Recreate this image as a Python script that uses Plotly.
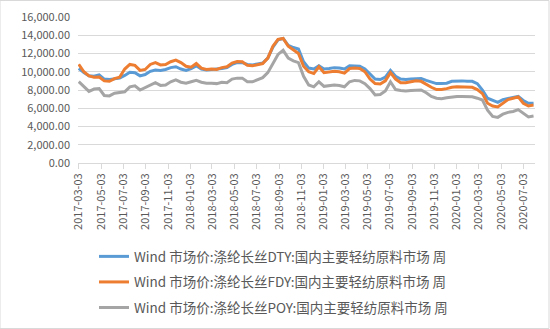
import plotly.graph_objects as go

dates = [
    "2017-03-03", "2017-03-17", "2017-03-31", "2017-04-14", "2017-04-28", "2017-05-12", "2017-05-26",
    "2017-06-09", "2017-06-23", "2017-07-07", "2017-07-21", "2017-08-04", "2017-08-18", "2017-09-01",
    "2017-09-15", "2017-09-29", "2017-10-13", "2017-10-27", "2017-11-10", "2017-11-24", "2017-12-08",
    "2017-12-22", "2018-01-05", "2018-01-19", "2018-02-02", "2018-02-16", "2018-03-02", "2018-03-16",
    "2018-03-30", "2018-04-13", "2018-04-27", "2018-05-11", "2018-05-25", "2018-06-08", "2018-06-22",
    "2018-07-06", "2018-07-20", "2018-08-03", "2018-08-17", "2018-08-31", "2018-09-14", "2018-09-28",
    "2018-10-12", "2018-10-26", "2018-11-09", "2018-11-23", "2018-12-07", "2018-12-21", "2019-01-04",
    "2019-01-18", "2019-02-01", "2019-02-15", "2019-03-01", "2019-03-15", "2019-03-29", "2019-04-12",
    "2019-04-26", "2019-05-10", "2019-05-24", "2019-06-07", "2019-06-21", "2019-07-05", "2019-07-19",
    "2019-08-02", "2019-08-16", "2019-08-30", "2019-09-13", "2019-09-27", "2019-10-11", "2019-10-25",
    "2019-11-08", "2019-11-22", "2019-12-06", "2019-12-20", "2020-01-03", "2020-01-17", "2020-01-31",
    "2020-02-14", "2020-02-28", "2020-03-13", "2020-03-27", "2020-04-10", "2020-04-24", "2020-05-08",
    "2020-05-22", "2020-06-05", "2020-06-19", "2020-07-03", "2020-07-17", "2020-07-31",
]

dty = [
    10380, 9900, 9550, 9500, 9650, 9200, 9150, 9250, 9300, 9600, 9950, 9900, 9550, 9700,
    10050, 10200, 10150, 10250, 10450, 10550, 10300, 10150, 10350, 10650, 10300, 10200, 10250, 10250,
    10350, 10450, 10800, 11000, 11000, 10800, 10750, 10850, 10950, 11500, 12700, 13500, 13650, 12900,
    12650, 12500, 11100, 10400, 10300, 10650, 10300, 10350, 10450, 10400, 10300, 10650, 10650, 10600,
    10300, 9700, 9200, 9150, 9400, 10150, 9500, 9200, 9150, 9200, 9250, 9250, 9050, 8850,
    8700, 8700, 8750, 8950, 9000, 9000, 8950, 8950, 8700, 8000, 7100, 6850, 6650, 6950,
    7050, 7150, 7300, 6850, 6550, 6550,
]

fdy = [
    10820, 10000, 9550, 9400, 9420, 9000, 8950, 9250, 9400, 10300, 10800, 10700, 10150, 10250,
    10800, 11000, 10750, 10800, 11100, 11280, 11000, 10600, 10500, 10900, 10400, 10250, 10300, 10250,
    10450, 10550, 10950, 11120, 11100, 10700, 10650, 10750, 10900, 11500, 12800, 13550, 13650, 12800,
    12400, 12000, 10600, 10000, 9800, 10550, 9900, 10000, 10050, 10000, 9850, 10350, 10400, 10350,
    10000, 9200, 8700, 8650, 9000, 9900, 9200, 8800, 8800, 8900, 9000, 8950, 8600, 8300,
    8050, 8050, 8150, 8300, 8350, 8350, 8300, 8300, 8050, 7600, 6550, 6250, 6150, 6600,
    6950, 7100, 7250, 6550, 6250, 6350,
]

poy = [
    8910, 8400, 7850, 8100, 8150, 7400, 7350, 7650, 7700, 7800, 8350, 8450, 8000, 8250,
    8550, 8800, 8500, 8550, 8900, 9100, 8850, 8750, 8900, 9050, 8850, 8750, 8750, 8700,
    8850, 8800, 9200, 9300, 9300, 8900, 8900, 9150, 9350, 9900, 10900, 11900, 12350, 11500,
    11200, 11000, 9500, 8550, 8350, 8900, 8400, 8450, 8550, 8500, 8350, 8900, 9050, 9000,
    8700, 8150, 7450, 7500, 7900, 8900, 8050, 7950, 7900, 7950, 8000, 8000, 7700, 7300,
    7100, 7050, 7150, 7250, 7300, 7300, 7250, 7250, 7100, 6900, 5800, 5100, 5000, 5350,
    5550, 5650, 5850, 5450, 5050, 5150,
]

tick_dates = [
    "2017-03-03", "2017-05-03", "2017-07-03", "2017-09-03", "2017-11-03", "2018-01-03", "2018-03-03",
    "2018-05-03", "2018-07-03", "2018-09-03", "2018-11-03", "2019-01-03", "2019-03-03", "2019-05-03",
    "2019-07-03", "2019-09-03", "2019-11-03", "2020-01-03", "2020-03-03", "2020-05-03", "2020-07-03",
]

names = [
    "Wind 市场价:涤纶长丝DTY:国内主要轻纺原料市场 周",
    "Wind 市场价:涤纶长丝FDY:国内主要轻纺原料市场 周",
    "Wind 市场价:涤纶长丝POY:国内主要轻纺原料市场 周",
]
colors = ["#5B9BD5", "#ED7D31", "#A5A5A5"]

FONT = "Noto Sans CJK SC, Noto Sans, sans-serif"
TXT = "#595959"

fig = go.Figure()
for i, (vals, nm, c) in enumerate(zip([dty, fdy, poy], names, colors)):
    fig.add_trace(go.Scatter(
        x=dates, y=vals, name=nm, mode="lines",
        line=dict(color=c, width=3), legendgroup=f"g{i}",
    ))

fig.update_layout(
    width=550, height=329,
    margin=dict(l=78, r=15, t=17, b=166, autoexpand=False),
    paper_bgcolor="white", plot_bgcolor="white",
    font=dict(family=FONT, color=TXT, size=11),
    showlegend=True,
    legend=dict(
        x=0.035, xanchor="left", y=-0.535, yanchor="top",
        orientation="v", font=dict(size=13.5, color=TXT, family=FONT),
        tracegroupgap=5, bgcolor="rgba(0,0,0,0)",
    ),
    xaxis=dict(
        type="date", range=["2017-03-01", "2020-08-04"],
        tickvals=tick_dates, ticktext=tick_dates, tickangle=-90,
        showgrid=False, showline=True, linecolor="#D9D9D9", linewidth=1,
        ticks="outside", ticklen=5, tickcolor="#D9D9D9",
        tickfont=dict(size=11, color=TXT), zeroline=False,
    ),
    yaxis=dict(
        range=[0, 16000], dtick=2000, tickformat=",.2f",
        showgrid=True, gridcolor="#D9D9D9", gridwidth=1, zeroline=False,
        tickfont=dict(size=11, color=TXT), ticks="", showline=False,
        ticklabelstandoff=7,
    ),
    shapes=[dict(type="rect", xref="paper", yref="paper",
                 x0=-78/457, x1=1 + 14/457, y0=-165.5/146, y1=1 + 16.5/146,
                 line=dict(color="#D9D9D9", width=1), layer="below")],
)

fig.write_html("out.html")
